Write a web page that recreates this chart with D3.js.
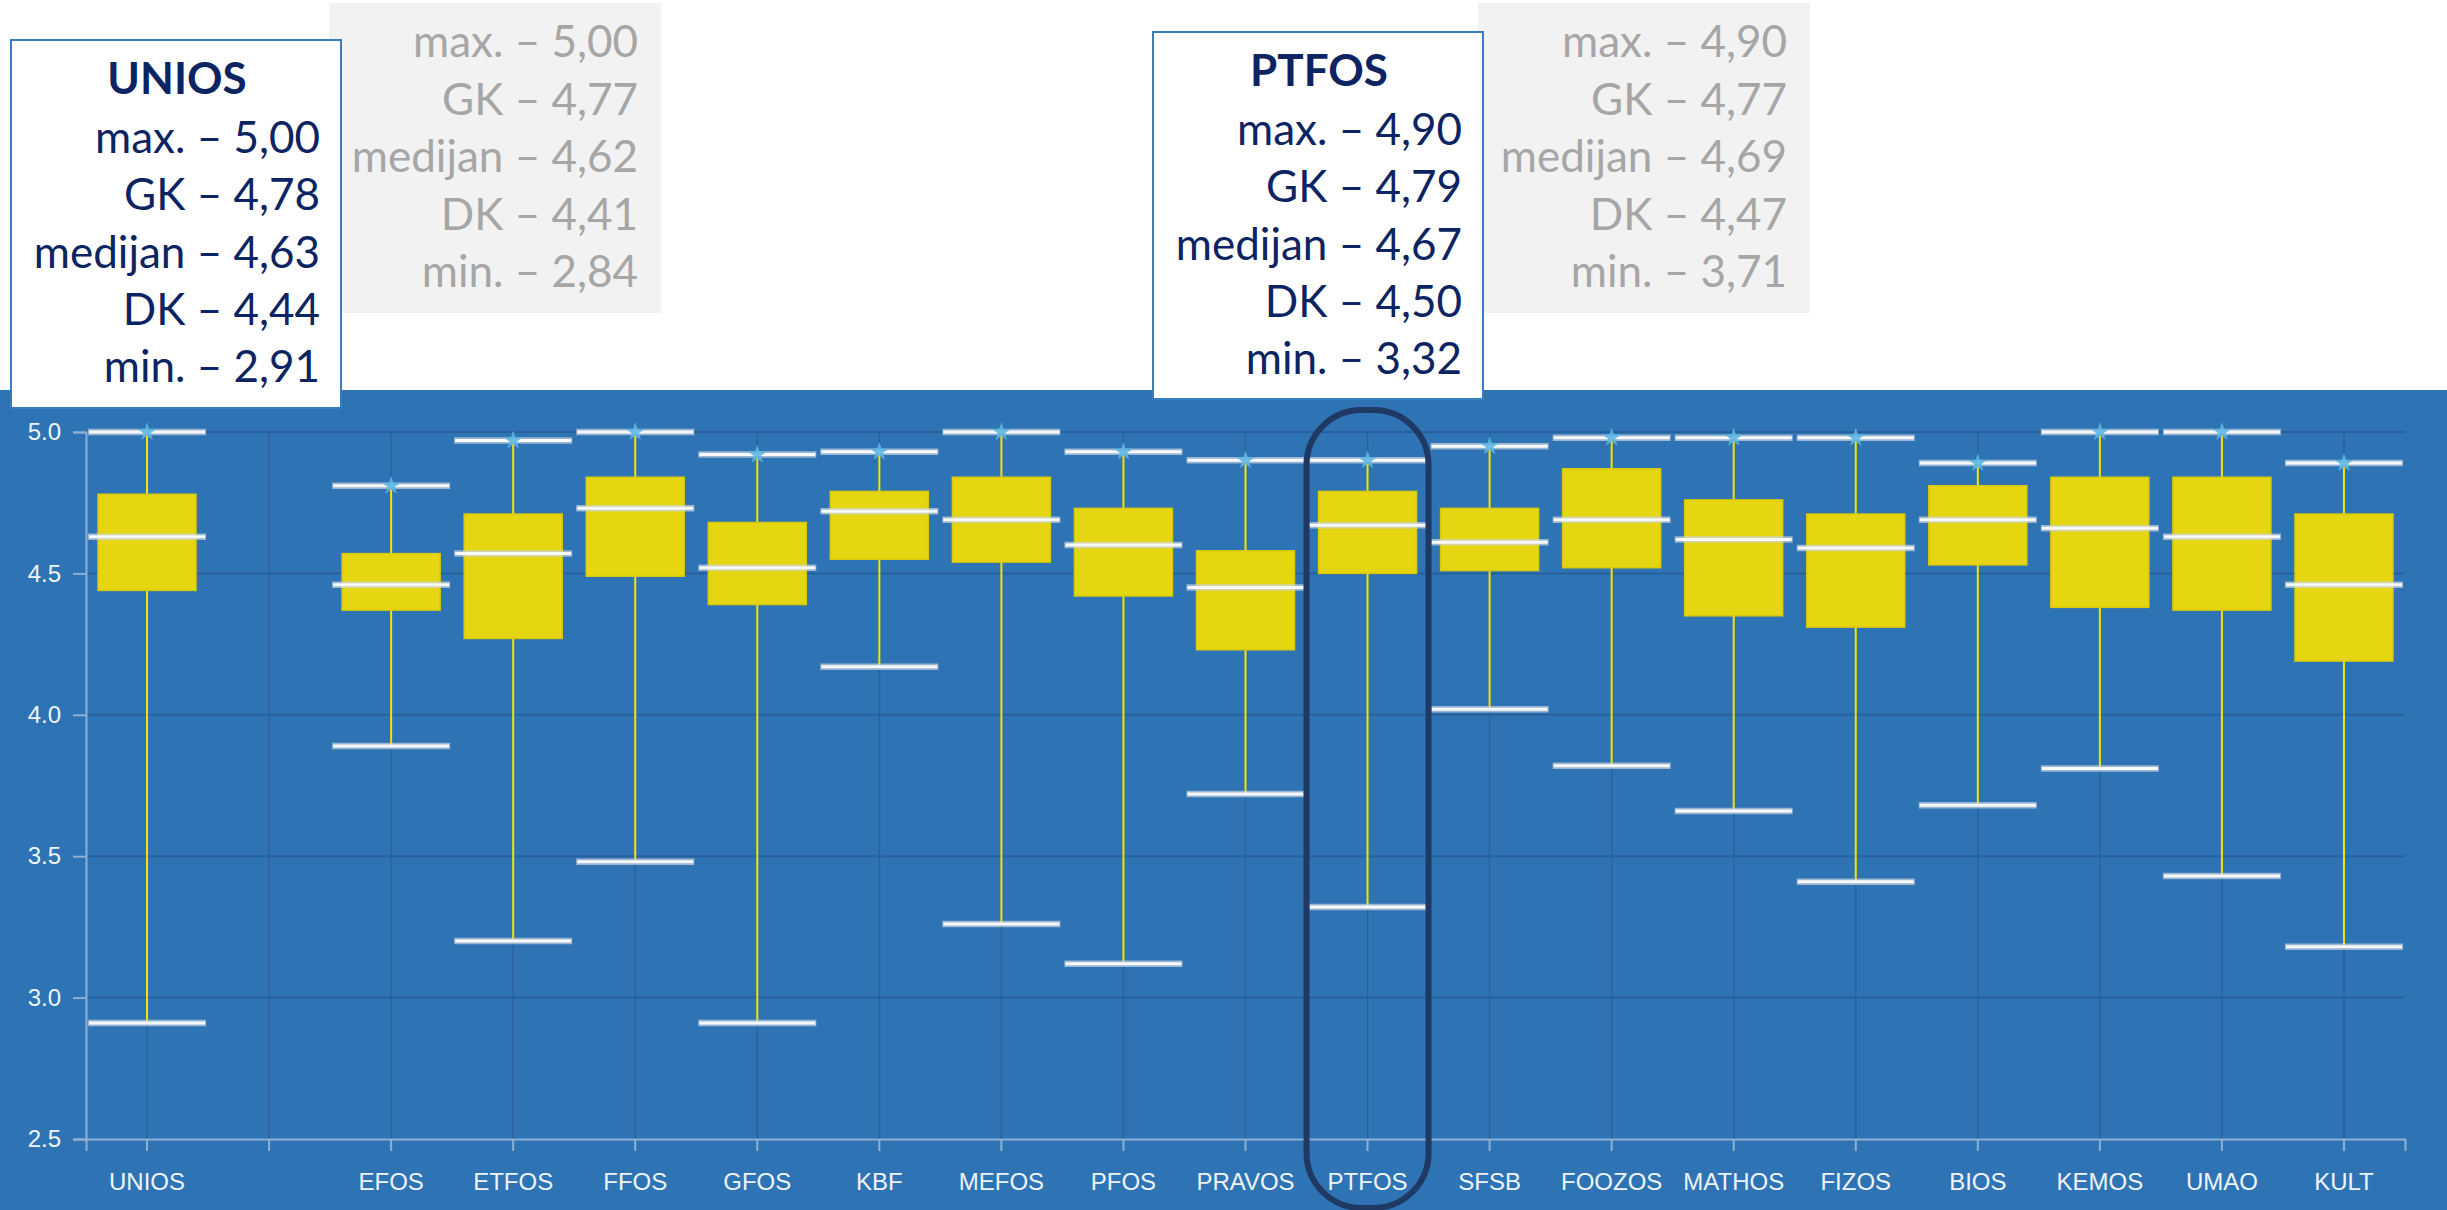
<!DOCTYPE html>
<html>
<head>
<meta charset="utf-8">
<script src="https://cdn.jsdelivr.net/npm/d3@7"></script>
<style>
  body { margin: 0; background: #fff; }
  svg { display: block; }
</style>
</head>
<body>
<div id="chart"></div>
<script>
// Data
const categories = ["UNIOS", "", "EFOS", "ETFOS", "FFOS", "GFOS", "KBF", "MEFOS", "PFOS", "PRAVOS",
  "PTFOS", "SFSB", "FOOZOS", "MATHOS", "FIZOS", "BIOS", "KEMOS", "UMAO", "KULT"];
const maxVals = [5.00, null, 4.81, 4.97, 5.00, 4.92, 4.93, 5.00, 4.93, 4.90, 4.90, 4.95, 4.98, 4.98, 4.98, 4.89, 5.00, 5.00, 4.89];
const q3Vals  = [4.78, null, 4.57, 4.71, 4.84, 4.68, 4.79, 4.84, 4.73, 4.58, 4.79, 4.73, 4.87, 4.76, 4.71, 4.81, 4.84, 4.84, 4.71];
const medVals = [4.63, null, 4.46, 4.57, 4.73, 4.52, 4.72, 4.69, 4.60, 4.45, 4.67, 4.61, 4.69, 4.62, 4.59, 4.69, 4.66, 4.63, 4.46];
const q1Vals  = [4.44, null, 4.37, 4.27, 4.49, 4.39, 4.55, 4.54, 4.42, 4.23, 4.50, 4.51, 4.52, 4.35, 4.31, 4.53, 4.38, 4.37, 4.19];
const minVals = [2.91, null, 3.89, 3.20, 3.48, 2.91, 4.17, 3.26, 3.12, 3.72, 3.32, 4.02, 3.82, 3.66, 3.41, 3.68, 3.81, 3.43, 3.18];
const yTicks = [2.5, 3.0, 3.5, 4.0, 4.5, 5.0];

// Callout texts
const statLabels = ["max.", "GK", "medijan", "DK", "min."];
const uniosStats = ["5,00", "4,78", "4,63", "4,44", "2,91"];
const uniosGrey  = ["5,00", "4,77", "4,62", "4,41", "2,84"];
const ptfosStats = ["4,90", "4,79", "4,67", "4,50", "3,32"];
const ptfosGrey  = ["4,90", "4,77", "4,69", "4,47", "3,71"];

const width = 2447;
const height = 1210;
const plot = { left: 86, right: 2405, top: 432, bottom: 1139 };

const svg = d3.select("#chart")
  .append("svg")
  .attr("width", width)
  .attr("height", height);

// blue panel
svg.append("rect")
  .attr("x", 0).attr("y", 390)
  .attr("width", width).attr("height", height - 390)
  .attr("fill", "#2e74b5");

const x = d3.scaleBand()
  .domain(categories)
  .range([plot.left, plot.right]);

const y = d3.scaleLinear()
  .domain([2.5, 5])
  .range([plot.bottom, plot.top]);

const cx = c => x(c) + x.bandwidth() / 2;

// grid
svg.append("g")
  .selectAll("line")
  .data(yTicks.slice(1))
  .enter()
  .append("line")
  .attr("x1", plot.left).attr("x2", plot.right)
  .attr("y1", d => y(d)).attr("y2", d => y(d))
  .attr("stroke", "#27619b")
  .attr("stroke-width", 2);

svg.append("g")
  .selectAll("line")
  .data(categories)
  .enter()
  .append("line")
  .attr("x1", d => cx(d)).attr("x2", d => cx(d))
  .attr("y1", plot.top).attr("y2", plot.bottom)
  .attr("stroke", "#2a639c")
  .attr("stroke-width", 1.5);

// axes
const yAxis = svg.append("g")
  .attr("transform", `translate(${plot.left},0)`)
  .call(d3.axisLeft(y).tickValues(yTicks).tickFormat(d3.format(".1f")).tickSize(13).tickPadding(12));

const xAxis = svg.append("g")
  .attr("transform", `translate(0,${plot.bottom})`)
  .call(d3.axisBottom(x).tickSize(12).tickPadding(22));

[yAxis, xAxis].forEach(ax => {
  ax.select(".domain").attr("stroke", "#8fb0d4").attr("stroke-width", 2);
  ax.selectAll(".tick line").attr("stroke", "#8fb0d4").attr("stroke-width", 2);
  ax.selectAll(".tick text")
    .attr("fill", "#eef3f9")
    .style("font-family", "'Liberation Sans', Arial, sans-serif")
    .style("font-size", "24px");
});

// box plots
const boxes = categories.map((c, i) => ({
  cat: c, max: maxVals[i], q3: q3Vals[i], med: medVals[i], q1: q1Vals[i], min: minVals[i]
})).filter(d => d.max !== null);

const boxW = 98;
const capW = 118;

const g = svg.append("g");

// whiskers
g.selectAll(".whisker")
  .data(boxes)
  .enter()
  .append("line")
  .attr("x1", d => cx(d.cat)).attr("x2", d => cx(d.cat))
  .attr("y1", d => y(d.max)).attr("y2", d => y(d.min))
  .attr("stroke", "#f5e400")
  .attr("stroke-width", 2);

// boxes
g.selectAll(".box")
  .data(boxes)
  .enter()
  .append("rect")
  .attr("x", d => cx(d.cat) - boxW / 2)
  .attr("y", d => y(d.q3))
  .attr("width", boxW)
  .attr("height", d => y(d.q1) - y(d.q3))
  .attr("fill", "#e6d611")
  .attr("stroke", "#d9c90c")
  .attr("stroke-width", 1.5);

// caps + median: white line over a soft grey halo
["max", "med", "min"].forEach(key => {
  g.selectAll(".halo-" + key)
    .data(boxes)
    .enter()
    .append("line")
    .attr("x1", d => cx(d.cat) - capW / 2)
    .attr("x2", d => cx(d.cat) + capW / 2)
    .attr("y1", d => y(d[key])).attr("y2", d => y(d[key]))
    .attr("stroke", "#c9d3de")
    .attr("stroke-opacity", 0.7)
    .attr("stroke-width", 6.5);
  g.selectAll(".cap-" + key)
    .data(boxes)
    .enter()
    .append("line")
    .attr("x1", d => cx(d.cat) - capW / 2 + 1)
    .attr("x2", d => cx(d.cat) + capW / 2 - 1)
    .attr("y1", d => y(d[key])).attr("y2", d => y(d[key]))
    .attr("stroke", "#f7f8fa")
    .attr("stroke-width", 3);
});

// max markers
g.selectAll(".star")
  .data(boxes)
  .enter()
  .append("path")
  .attr("d", d3.symbol().type(d3.symbolStar).size(110))
  .attr("transform", d => `translate(${cx(d.cat)},${y(d.max)})`)
  .attr("fill", "#5db6e2")
  .attr("fill-opacity", 0.9);

// highlight around PTFOS
svg.append("rect")
  .attr("x", cx("PTFOS") - 61)
  .attr("y", 410)
  .attr("width", 122)
  .attr("height", 798)
  .attr("rx", 55)
  .attr("fill", "none")
  .attr("stroke", "#1f3864")
  .attr("stroke-width", 6);

// callout boxes
function greyBox(x0, rightX, values) {
  svg.append("rect")
    .attr("x", x0).attr("y", 3)
    .attr("width", 332).attr("height", 310)
    .attr("fill", "#f2f2f2");
  values.forEach((v, i) => {
    svg.append("text")
      .attr("x", rightX)
      .attr("y", 57 + i * 57.5)
      .attr("text-anchor", "end")
      .attr("fill", "#a6a6a6")
      .style("font-family", "Lato, sans-serif")
      .style("font-size", "44px")
      .text(`${statLabels[i]} – ${v}`);
  });
}

function whiteBox(x0, y0, h, title, titleY, rightX, values) {
  svg.append("rect")
    .attr("x", x0).attr("y", y0)
    .attr("width", 330).attr("height", h)
    .attr("fill", "#ffffff")
    .attr("stroke", "#3a7cc0")
    .attr("stroke-width", 2);
  svg.append("text")
    .attr("x", x0 + 166)
    .attr("y", titleY)
    .attr("text-anchor", "middle")
    .attr("fill", "#0c2461")
    .style("font-family", "Lato, sans-serif")
    .style("font-weight", "bold")
    .style("font-size", "44px")
    .text(title);
  values.forEach((v, i) => {
    svg.append("text")
      .attr("x", rightX)
      .attr("y", titleY + 59 + i * 57.3)
      .attr("text-anchor", "end")
      .attr("fill", "#0c2461")
      .style("font-family", "Lato, sans-serif")
      .style("font-size", "44px")
      .text(`${statLabels[i]} – ${v}`);
  });
}

greyBox(329, 638, uniosGrey);
whiteBox(11, 40, 368, "UNIOS", 94, 320, uniosStats);
greyBox(1478, 1787, ptfosGrey);
whiteBox(1153, 32, 367, "PTFOS", 86, 1462, ptfosStats);
</script>
</body>
</html>
